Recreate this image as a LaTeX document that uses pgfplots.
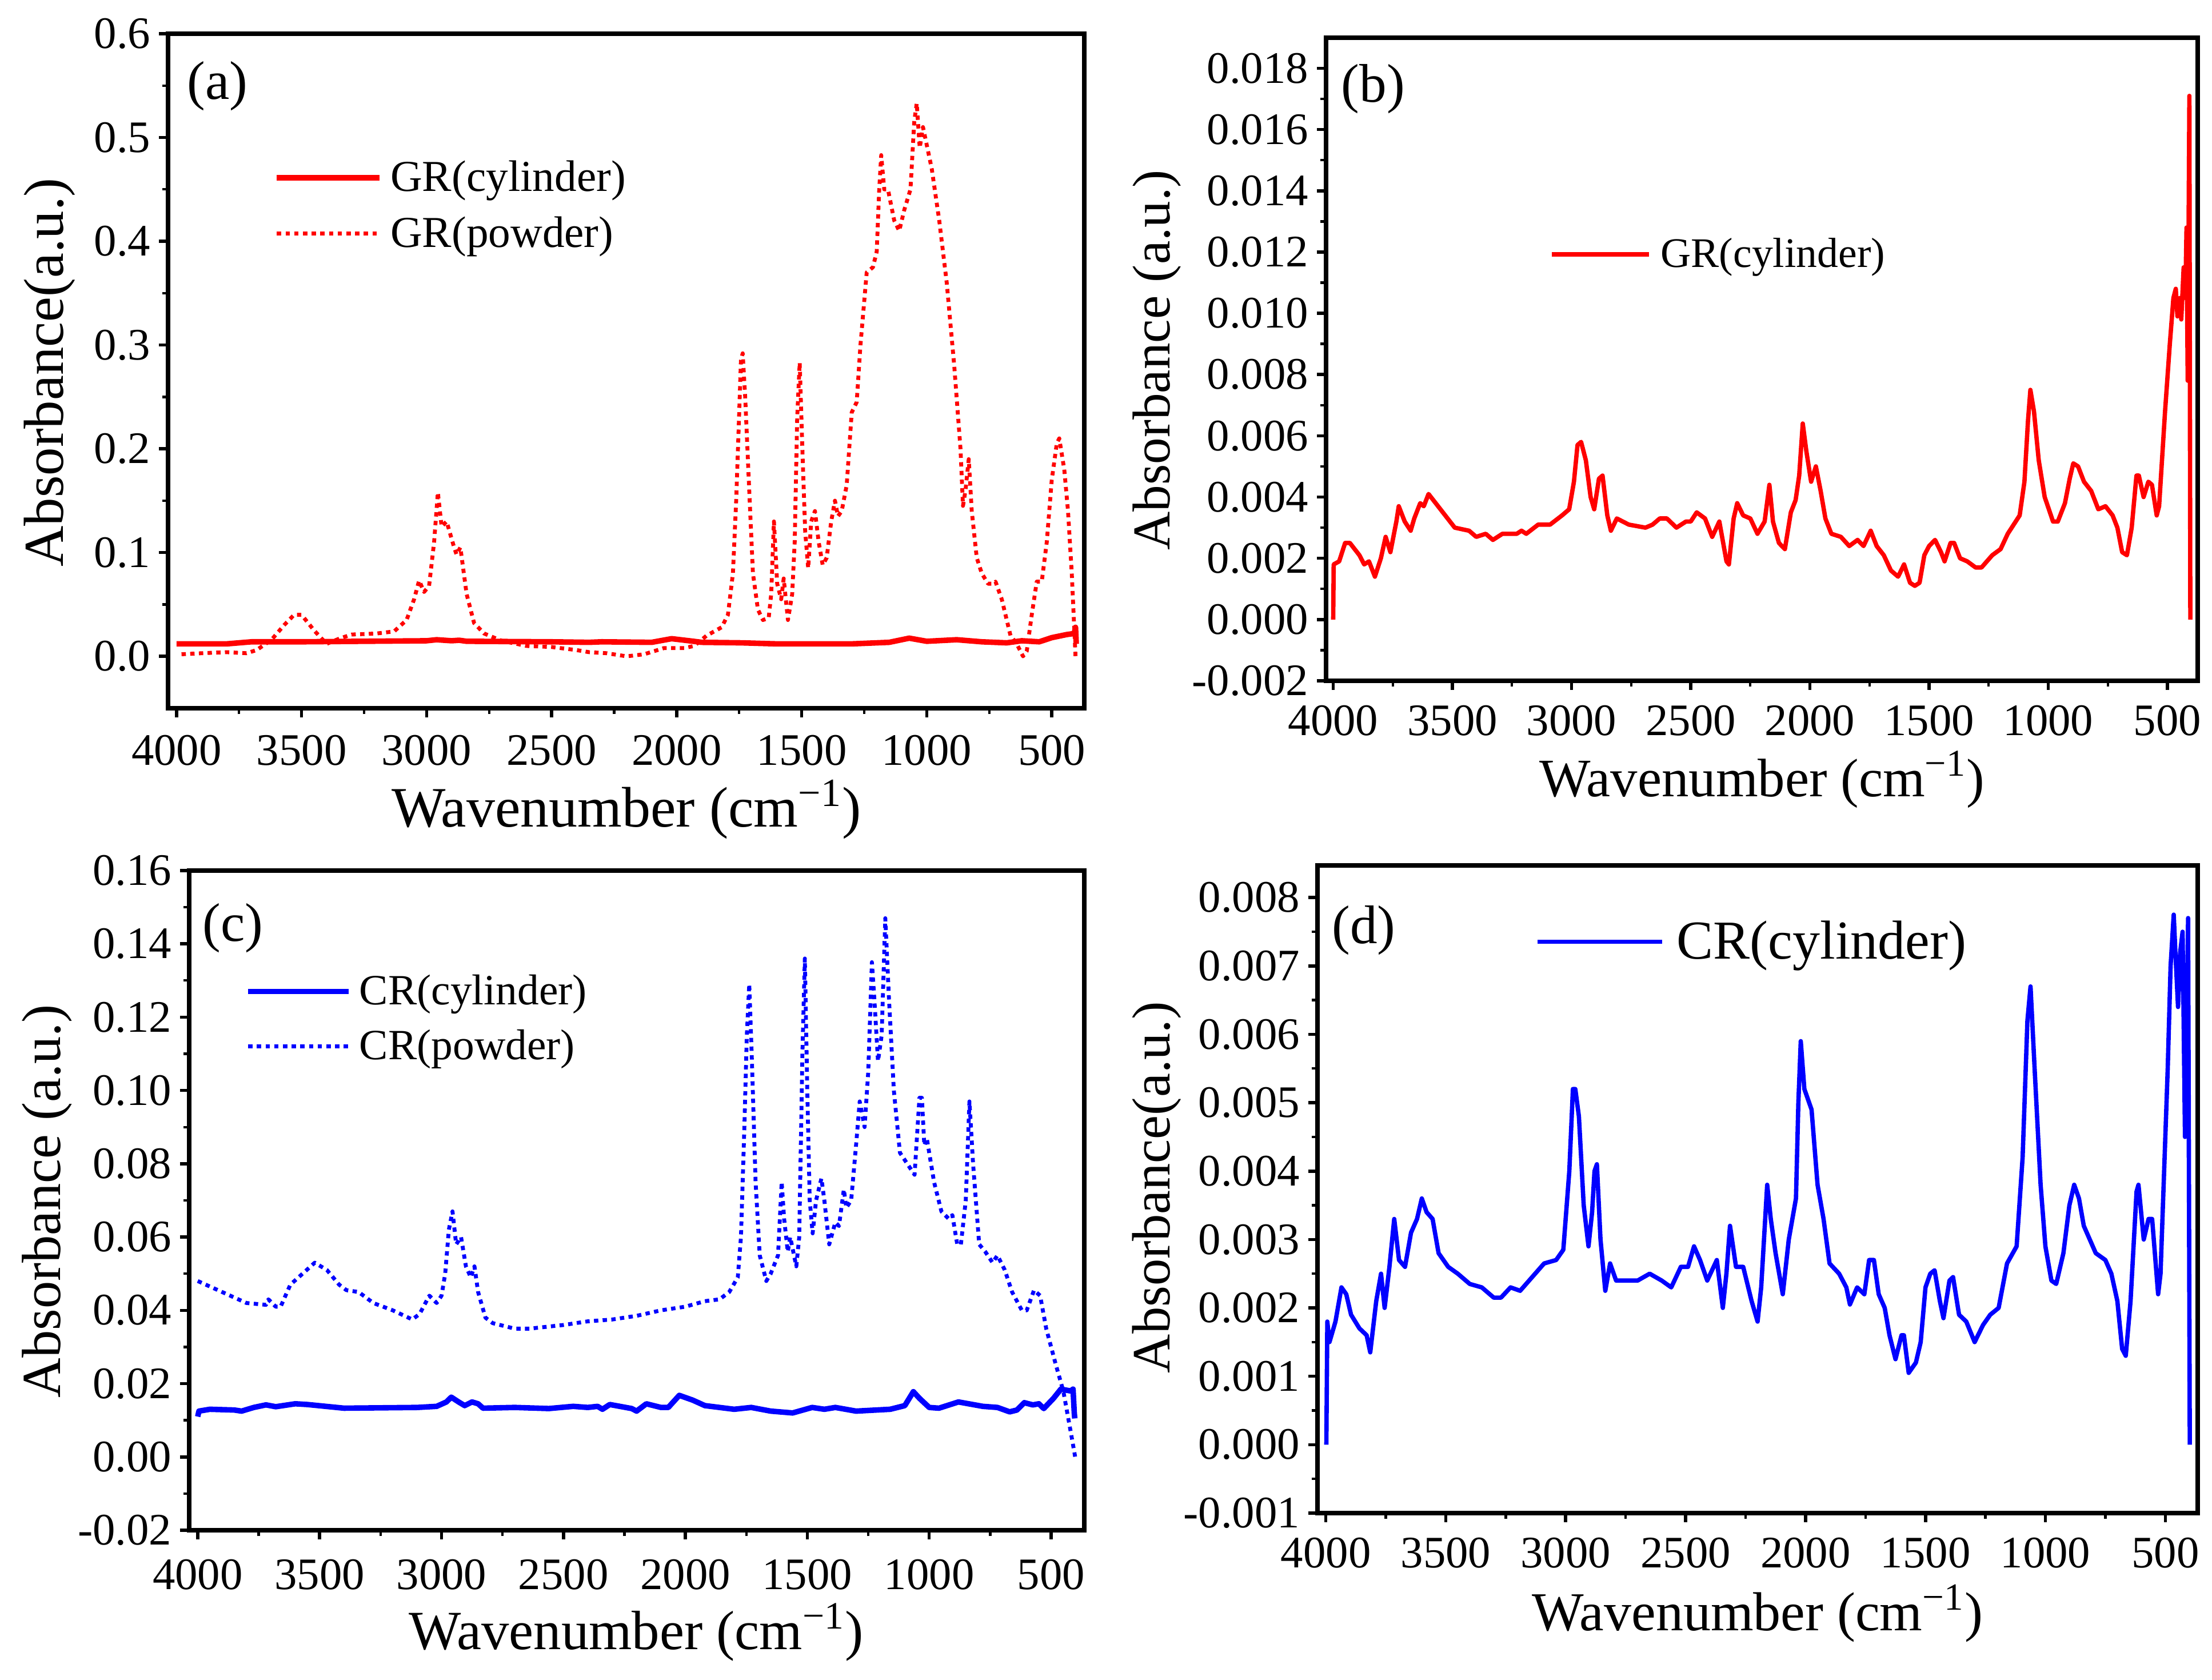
\documentclass[border=0pt]{standalone}
\usepackage{fontspec}
\setmainfont{Liberation Serif}
\usepackage{pgfplots}
\pgfplotsset{compat=1.18}
\definecolor{myred}{RGB}{255,0,0}
\definecolor{myblue}{RGB}{0,0,255}
\newcommand{\fs}[1]{\fontsize{#1pt}{#1pt}\selectfont}
\tikzset{
  lab/.style={font=\fs{#1},inner sep=0pt},
  solidr/.style={myred,line join=round},
  solidb/.style={myblue,line join=round},
  dotted line/.style={line width=1.7pt,line join=round,dash pattern=on 1.9pt off 1.9pt},
}
\pgfplotsset{
  leglen/.initial=45pt,
  panel/.style={
    scale only axis, anchor=south west,
    x dir=reverse,
    scaled x ticks=false, scaled y ticks=false,
    xtick={4000,3500,3000,2500,2000,1500,1000,500},
    xticklabels={4000,3500,3000,2500,2000,1500,1000,500},
    minor x tick num=1, minor y tick num=1,
    tick pos=left, tick align=outside,
    major tick length=4pt, minor tick length=2.6pt,
    tick style={black,line width=1.4pt},
    minor tick style={black,line width=1.1pt},
    axis line style={black,line width=2.2pt},
    tick label style={font=\fs{19.7},inner sep=0pt},
    yticklabel shift=3.5pt,
    legend cell align=left,
    legend image code/.code={\draw[##1] (0pt,0pt) -- (\pgfkeysvalueof{/pgfplots/leglen},0pt);},
  },
}
\begin{document}
\begin{tikzpicture}
\useasboundingbox (0,0) rectangle (967.5pt,734.75pt);
% ---------- (a)
\begin{axis}[panel, at={(73.5pt,425pt)}, width=400.75pt, height=295pt,
  xmin=370, xmax=4034, ymin=-0.05, ymax=0.6,
  xticklabel shift=7.7pt,
  ytick={0,0.1,0.2,0.3,0.4,0.5,0.6},
  yticklabels={0.0,0.1,0.2,0.3,0.4,0.5,0.6},
  xlabel={Wavenumber (cm\textsuperscript{−1})},
  ylabel={Absorbance(a.u.)},
  xlabel style={lab=25,at={(axis description cs:.5003,-.15)},anchor=center},
  ylabel style={lab=24.7,at={(axis description cs:-.129,.498)},anchor=center},
  legend style={draw=none,fill=none,at={(axis description cs:.1158,.745)},anchor=west,inner sep=0pt,outer sep=0pt,
     font=\fs{19.3},row sep=9.5pt,column sep=3.5pt,nodes={inner sep=0pt}},
]
\addplot[solidr,line width=2.4pt] coordinates {(4000,.012)(3800,.012)(3700,.014)(3500,.014)(3000,.015)(2960,.016)(2900,.015)(2870,.0155)(2840,.0145)(2500,.014)(2350,.0135)(2300,.014)(2100,.0135)(2020,.017)(1950,.015)(1900,.0135)(1740,.013)(1600,.012)(1300,.012)(1150,.0135)(1070,.0175)(1000,.0145)(880,.016)(780,.014)(680,.013)(620,.015)(550,.014)(500,.018)(440,.021)(410,.022)(405,.028)(402,.012)};
\addlegendentry{GR(cylinder)}
\addplot[solidr,dotted line] coordinates {(3980,.002)(3900,.003)(3800,.004)(3720,.003)(3680,.006)(3620,.016)(3570,.03)(3530,.040)(3500,.040)(3450,.025)(3400,.012)(3350,.017)(3300,.021)(3200,.022)(3130,.024)(3080,.035)(3050,.055)(3030,.073)(3010,.062)(2990,.068)(2970,.11)(2955,.158)(2940,.125)(2920,.13)(2890,.105)(2880,.098)(2865,.105)(2840,.06)(2810,.032)(2770,.022)(2700,.015)(2600,.010)(2500,.009)(2400,.006)(2350,.004)(2280,.003)(2200,.000)(2130,.002)(2050,.008)(1970,.008)(1930,.010)(1880,.020)(1820,.028)(1795,.04)(1775,.08)(1762,.15)(1752,.22)(1743,.285)(1736,.292)(1726,.25)(1708,.15)(1695,.08)(1675,.045)(1655,.035)(1632,.037)(1622,.06)(1611,.13)(1598,.07)(1582,.055)(1572,.075)(1555,.035)(1538,.06)(1528,.11)(1518,.23)(1508,.283)(1496,.19)(1486,.12)(1474,.085)(1462,.13)(1447,.14)(1432,.11)(1416,.088)(1400,.095)(1382,.13)(1367,.15)(1355,.135)(1340,.14)(1320,.165)(1300,.235)(1280,.245)(1265,.30)(1240,.37)(1215,.375)(1200,.39)(1190,.45)(1182,.483)(1170,.45)(1155,.45)(1130,.42)(1110,.41)(1090,.43)(1065,.45)(1050,.515)(1040,.533)(1028,.49)(1015,.51)(980,.47)(950,.42)(920,.36)(890,.28)(865,.20)(855,.145)(845,.16)(832,.19)(820,.14)(800,.095)(780,.08)(755,.07)(735,.07)(725,.072)(700,.055)(665,.02)(640,.012)(615,.0)(600,.005)(580,.04)(560,.072)(540,.072)(520,.11)(500,.17)(480,.205)(470,.21)(450,.18)(435,.14)(420,.08)(405,.0)};
\addlegendentry{GR(powder)}
\node[lab=23.8,anchor=west] at (rel axis cs:.0206,.922) {(a)};
\end{axis}
% ---------- (b)
\begin{axis}[panel, at={(580pt,437pt)}, width=381.25pt, height=281.25pt,
  xmin=373, xmax=4030, ymin=-0.002, ymax=0.019,
  xticklabel shift=6.7pt,
  ytick={-0.002,0,0.002,0.004,0.006,0.008,0.010,0.012,0.014,0.016,0.018},
  yticklabels={-0.002,0.000,0.002,0.004,0.006,0.008,0.010,0.012,0.014,0.016,0.018},
  xlabel={Wavenumber (cm\textsuperscript{−1})},
  ylabel={Absorbance (a.u.)},
  xlabel style={lab=23.7,at={(axis description cs:.5003,-.1538)},anchor=center},
  ylabel style={lab=23.3,at={(axis description cs:-.194,.4987)},anchor=center},
  legend style={draw=none,fill=none,at={(axis description cs:.2566,.663)},anchor=west,inner sep=0pt,outer sep=0pt,
     font=\fs{18.4},column sep=4.2pt,nodes={inner sep=0pt}},
  leglen=42.5pt,
]
\addplot[solidr,line width=1.9pt] coordinates {(4000,0)(3998,.0018)(3975,.0019)(3950,.0025)(3930,.0025)(3890,.0021)(3870,.0018)(3850,.0019)(3825,.0014)(3800,.002)(3780,.0027)(3760,.0022)(3735,.0032)(3725,.0037)(3700,.0032)(3675,.0029)(3660,.0033)(3635,.0038)(3620,.0037)(3600,.0041)(3580,.0039)(3540,.0035)(3490,.003)(3430,.0029)(3400,.0027)(3360,.0028)(3330,.0026)(3290,.0028)(3230,.0028)(3210,.0029)(3190,.0028)(3140,.0031)(3090,.0031)(3040,.0034)(3010,.0036)(2990,.0045)(2975,.0057)(2960,.0058)(2940,.0052)(2920,.004)(2905,.0036)(2885,.0046)(2870,.0047)(2850,.0034)(2835,.0029)(2810,.0033)(2760,.0031)(2690,.003)(2660,.0031)(2630,.0033)(2600,.0033)(2560,.003)(2520,.0032)(2500,.0032)(2475,.0035)(2440,.0033)(2410,.0027)(2380,.0032)(2350,.0019)(2340,.0018)(2320,.0033)(2305,.0038)(2280,.0034)(2250,.0033)(2220,.0028)(2190,.0032)(2170,.0044)(2155,.0032)(2130,.0025)(2105,.0023)(2080,.0035)(2060,.0039)(2045,.0047)(2030,.0064)(2015,.0055)(1995,.0045)(1975,.005)(1955,.0042)(1935,.0033)(1910,.0028)(1870,.0027)(1835,.0024)(1800,.0026)(1775,.0024)(1745,.0029)(1720,.0024)(1690,.0021)(1660,.0016)(1630,.0014)(1605,.0018)(1580,.0012)(1560,.0011)(1540,.0012)(1520,.0021)(1500,.0024)(1475,.0026)(1450,.0022)(1435,.0019)(1410,.0025)(1395,.0025)(1370,.002)(1340,.0019)(1305,.0017)(1280,.0017)(1235,.0021)(1200,.0023)(1170,.0028)(1120,.0034)(1100,.0045)(1085,.0065)(1075,.0075)(1060,.0068)(1040,.0052)(1015,.004)(980,.0032)(960,.0032)(930,.0038)(910,.0046)(895,.0051)(875,.005)(850,.0045)(820,.0042)(790,.0036)(760,.0037)(730,.0034)(710,.003)(690,.0022)(670,.0021)(650,.003)(630,.0047)(620,.0047)(600,.004)(580,.0045)(565,.0044)(545,.0034)(535,.0037)(510,.0068)(490,.009)(475,.0105)(465,.0108)(458,.0099)(448,.0105)(442,.0098)(432,.0115)(425,.0105)(420,.0128)(415,.0078)(408,.0171)(404,0)};
\addlegendentry{GR(cylinder)}
\node[lab=23.8,anchor=west] at (rel axis cs:.017,.92) {(b)};
\end{axis}
% ---------- (c)
\begin{axis}[panel, at={(82.75pt,65.5pt)}, width=391.5pt, height=288.5pt,
  xmin=364, xmax=4035, ymin=-0.02, ymax=0.16,
  xticklabel shift=8.7pt,
  ytick={-0.02,0,0.02,0.04,0.06,0.08,0.10,0.12,0.14,0.16},
  yticklabels={-0.02,0.00,0.02,0.04,0.06,0.08,0.10,0.12,0.14,0.16},
  xlabel={Wavenumber (cm\textsuperscript{−1})},
  ylabel={Absorbance (a.u.)},
  xlabel style={lab=24.2,at={(axis description cs:.4994,-.155)},anchor=center},
  ylabel style={lab=24.1,at={(axis description cs:-.159,.499)},anchor=center},
  legend style={draw=none,fill=none,at={(axis description cs:.0628,.775)},anchor=west,inner sep=0pt,outer sep=0pt,
     font=\fs{18.85},row sep=9.5pt,column sep=3.5pt,nodes={inner sep=0pt}},
  leglen=44pt,
]
\addplot[solidb,line width=2.4pt] coordinates {(4000,.011)(3995,.0125)(3950,.013)(3850,.0128)(3820,.0125)(3770,.0135)(3720,.0142)(3680,.0137)(3600,.0145)(3550,.0143)(3400,.0133)(3100,.0135)(3020,.0138)(2980,.015)(2960,.0163)(2930,.015)(2905,.014)(2875,.015)(2850,.0145)(2830,.0133)(2700,.0135)(2560,.0132)(2460,.0138)(2400,.0135)(2360,.0138)(2340,.013)(2310,.0143)(2220,.0132)(2200,.0125)(2160,.0145)(2100,.0135)(2070,.0135)(2025,.0168)(1970,.0155)(1920,.014)(1800,.013)(1730,.0135)(1650,.0125)(1560,.012)(1480,.0135)(1430,.013)(1385,.0135)(1300,.0125)(1160,.013)(1100,.014)(1065,.0178)(1040,.016)(1000,.0135)(960,.0133)(880,.015)(780,.0138)(720,.0135)(670,.0123)(640,.0128)(610,.0148)(575,.0142)(550,.0145)(530,.0132)(490,.016)(460,.0185)(420,.018)(410,.0185)(405,.012)(403,.0105)};
\addlegendentry{CR(cylinder)}
\addplot[solidb,dotted line] coordinates {(4000,.048)(3900,.045)(3800,.042)(3720,.0415)(3710,.043)(3680,.041)(3660,.041)(3620,.047)(3570,.050)(3520,.053)(3470,.051)(3420,.047)(3390,.0455)(3340,.045)(3280,.042)(3200,.040)(3120,.0375)(3090,.039)(3050,.044)(3020,.042)(3000,.044)(2985,.05)(2970,.062)(2955,.067)(2940,.058)(2920,.060)(2900,.052)(2880,.049)(2865,.052)(2850,.045)(2820,.038)(2790,.0365)(2700,.035)(2640,.035)(2500,.036)(2400,.037)(2300,.0375)(2200,.0385)(2100,.040)(2000,.041)(1920,.0425)(1860,.043)(1820,.045)(1785,.049)(1772,.06)(1758,.09)(1748,.115)(1738,.129)(1728,.11)(1712,.075)(1695,.055)(1668,.048)(1650,.05)(1620,.055)(1605,.075)(1595,.065)(1580,.056)(1570,.06)(1545,.052)(1533,.06)(1520,.11)(1510,.136)(1500,.10)(1490,.07)(1478,.061)(1464,.07)(1442,.076)(1430,.07)(1410,.058)(1385,.064)(1370,.063)(1350,.073)(1340,.068)(1320,.07)(1300,.085)(1285,.097)(1265,.09)(1250,.105)(1235,.135)(1225,.125)(1210,.108)(1195,.115)(1180,.147)(1165,.125)(1145,.10)(1120,.083)(1100,.081)(1060,.077)(1040,.098)(1030,.098)(1020,.085)(1010,.087)(980,.075)(950,.067)(920,.065)(905,.066)(885,.058)(870,.058)(850,.07)(835,.097)(820,.08)(795,.058)(770,.056)(740,.053)(720,.055)(690,.051)(660,.045)(620,.040)(600,.04)(570,.0455)(545,.044)(520,.035)(480,.025)(450,.018)(420,.007)(400,-.0005)};
\addlegendentry{CR(powder)}
\node[lab=23.8,anchor=west] at (rel axis cs:.0147,.9125) {(c)};
\end{axis}
% ---------- (d)
\begin{axis}[panel, at={(576.25pt,73pt)}, width=385pt, height=283.25pt,
  xmin=365, xmax=4035, ymin=-0.001, ymax=0.00847,
  xticklabel shift=6.7pt,
  ytick={-0.001,0,0.001,0.002,0.003,0.004,0.005,0.006,0.007,0.008},
  yticklabels={-0.001,0.000,0.001,0.002,0.003,0.004,0.005,0.006,0.007,0.008},
  xlabel={Wavenumber (cm\textsuperscript{−1})},
  ylabel={Absorbance(a.u.)},
  xlabel style={lab=24,at={(axis description cs:.5,-.1553)},anchor=center},
  ylabel style={lab=23.6,at={(axis description cs:-.1825,.503)},anchor=center},
  legend style={draw=none,fill=none,at={(axis description cs:.2476,.882)},anchor=west,inner sep=0pt,outer sep=0pt,
     font=\fs{24},column sep=5.5pt,nodes={inner sep=0pt}},
  leglen=54.5pt,
]
\addplot[solidb,line width=1.9pt] coordinates {(3998,0)(3994,.0018)(3985,.0015)(3960,.0018)(3935,.0023)(3915,.0022)(3895,.0019)(3860,.0017)(3830,.0016)(3815,.00135)(3790,.0021)(3770,.0025)(3755,.002)(3735,.0026)(3715,.0033)(3695,.0027)(3670,.0026)(3645,.0031)(3620,.0033)(3600,.0036)(3580,.0034)(3555,.0033)(3530,.0028)(3490,.0026)(3450,.0025)(3400,.00235)(3350,.0023)(3300,.00215)(3270,.00215)(3230,.0023)(3190,.00225)(3140,.00245)(3090,.00265)(3040,.0027)(3010,.00285)(2985,.004)(2970,.0052)(2960,.0052)(2945,.0048)(2925,.0035)(2905,.0029)(2890,.0034)(2880,.004)(2870,.0041)(2855,.003)(2835,.00225)(2815,.00265)(2790,.0024)(2760,.0024)(2700,.0024)(2650,.0025)(2600,.0024)(2560,.0023)(2520,.0026)(2490,.0026)(2465,.0029)(2440,.0027)(2410,.0024)(2370,.0027)(2345,.002)(2330,.0025)(2315,.0032)(2290,.0026)(2260,.0026)(2225,.0021)(2200,.0018)(2185,.0023)(2160,.0038)(2145,.0033)(2125,.0028)(2095,.0022)(2070,.003)(2040,.0036)(2030,.005)(2020,.0059)(2005,.0052)(1975,.0049)(1950,.0038)(1925,.0033)(1900,.00265)(1860,.0025)(1830,.0023)(1815,.00205)(1785,.0023)(1755,.0022)(1735,.0027)(1715,.0027)(1695,.0022)(1670,.002)(1650,.0016)(1625,.00125)(1600,.0016)(1590,.0016)(1570,.00105)(1540,.0012)(1520,.0015)(1500,.0023)(1480,.0025)(1462,.00255)(1440,.0021)(1425,.00185)(1400,.0024)(1385,.00245)(1360,.0019)(1330,.0018)(1295,.0015)(1260,.00175)(1230,.0019)(1195,.002)(1160,.00265)(1120,.0029)(1095,.0042)(1075,.0062)(1062,.0067)(1045,.0055)(1020,.0038)(1000,.0029)(975,.0024)(955,.00235)(925,.0028)(900,.0035)(880,.0038)(860,.0036)(840,.0032)(815,.003)(790,.0028)(750,.0027)(725,.0025)(700,.0021)(680,.0014)(665,.0013)(645,.0021)(620,.0037)(612,.0038)(590,.003)(570,.0033)(555,.0033)(530,.0022)(520,.0025)(505,.004)(490,.0055)(478,.007)(465,.00775)(458,.0072)(447,.0064)(438,.0072)(428,.0075)(418,.0045)(405,.0077)(398,0)};
\addlegendentry{CR(cylinder)}
\node[lab=23.8,anchor=west] at (rel axis cs:.016,.90) {(d)};
\end{axis}
\end{tikzpicture}
\end{document}
